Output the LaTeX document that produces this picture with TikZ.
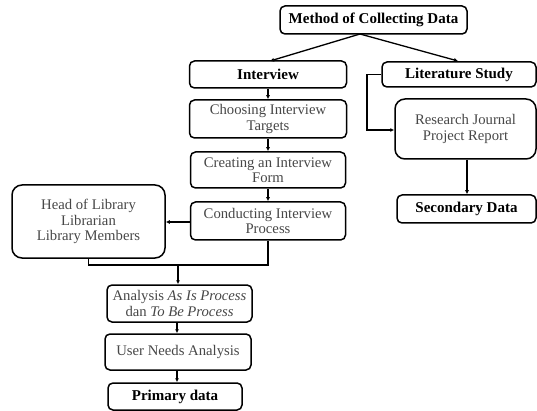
\documentclass[tikz,border=0pt]{standalone}
\usepackage{fontspec}
\setmainfont{Liberation Serif}
\usetikzlibrary{arrows.meta}
\begin{document}
\begin{tikzpicture}[x=1pt,y=-1pt,
  box/.style={draw, line width=1.5pt, rounded corners=5pt, inner sep=1pt,
    align=center, font=\fontsize{14.7}{15.5}\selectfont, text=black!72},
  bbox/.style={box, font=\fontsize{15}{16}\selectfont\bfseries, text=black},
  bigbox/.style={box, rounded corners=10pt},
  conn/.style={line width=1.3pt},
  arr/.style={conn, -{Latex[length=4pt,width=4pt]}}]
\useasboundingbox (0,0) rectangle (537,411);
% boxes
\node[bbox, minimum width=187pt, minimum height=28pt] (method) at (373.5,20) {Method of Collecting Data};
\node[bbox, minimum width=157pt, minimum height=27pt] (interview) at (268,74.5) {Interview};
\node[bbox, minimum width=154pt, minimum height=25pt] (lit) at (459,74.5) {Literature Study};
\node[box, minimum width=157pt, minimum height=38pt] (choose) at (268,119) {Choosing Interview\\Targets};
\node[box, minimum width=155pt, minimum height=36pt] (create) at (268,170) {Creating an Interview\\Form};
\node[box, minimum width=155pt, minimum height=38pt] (conduct) at (268,221) {Conducting Interview\\Process};
\node[bigbox, minimum width=153pt, minimum height=73pt] (head) at (88.5,221.5) {Head of Library\\Librarian\\Library Members};
\node[box, minimum width=145pt, minimum height=37pt] (asis) at (179.5,303.5) {Analysis \textit{As Is Process}\\dan \textit{To Be Process}};
\node[box, minimum width=146pt, minimum height=36pt] (needs) at (178,352) {User Needs Analysis};
\node[bbox, minimum width=134pt, minimum height=27pt] (primary) at (175,396.5) {Primary data};
\node[bigbox, minimum width=141pt, minimum height=60pt] (journal) at (465.5,129) {Research Journal\\Project Report};
\node[bbox, minimum width=139pt, minimum height=28pt] (secondary) at (466.5,209) {Secondary Data};
% connectors
\coordinate (split) at (360,34);
\draw[arr] (split) -- (270,61);
\draw[arr] (split) -- (458,61);
\draw[arr] (interview) -- (choose);
\draw[arr] (choose) -- (create);
\draw[arr] (create) -- (conduct);
\draw[arr] (conduct.west |- 0,222) -- (head.east |- 0,222);
\coordinate (join) at (178,265);
\draw[conn] (head.south) |- (join) -| (conduct.south);
\draw[arr] (join) -- (asis.north -| join);
\draw[arr] (asis.south -| 177,0) -- (needs.north -| 177,0);
\draw[arr] (needs.south -| 177,0) -- (primary.north -| 177,0);
\draw[arr] (lit.west) -- (367,74.5) |- (journal.west |- 0,130);
\draw[arr] (journal.south -| 467,0) -- (secondary.north -| 467,0);
\end{tikzpicture}
\end{document}
